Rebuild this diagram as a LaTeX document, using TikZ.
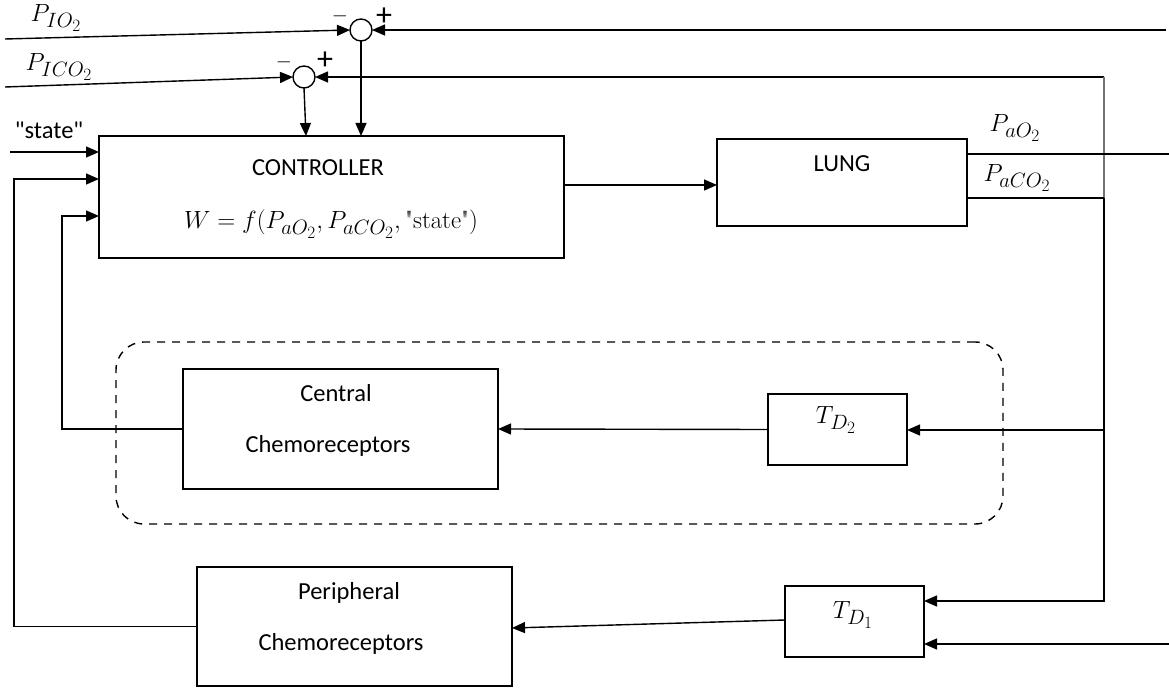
\documentclass[tikz,border=0pt]{standalone}
\usepackage{fontspec}
\newfontfamily\cbr{Carlito}
\usetikzlibrary{arrows.meta,calc}
\begin{document}
\begin{tikzpicture}[x=1pt,y=-1pt,
  box/.style={draw,line width=1.4pt,inner sep=0pt,outer sep=0pt},
  ln/.style={line width=1.4pt},
  arr/.style={line width=1.4pt,-{Triangle[length=13pt,width=11pt]}},
  lbl/.style={font=\cbr\fontsize{24.5}{28}\selectfont,inner sep=0pt,anchor=base},
  mth/.style={font=\fontsize{24.88}{28}\selectfont,inner sep=0pt},
  sgn/.style={font=\cbr\fontsize{32}{32}\selectfont,inner sep=0pt},
  msgn/.style={font=\fontsize{20.74}{22}\selectfont,inner sep=0pt},
  sumc/.style={circle,draw,line width=1.4pt,minimum size=22pt,inner sep=0pt,outer sep=0pt}]
\useasboundingbox (0,0) rectangle (1169,692);

% dashed group
\node[draw,line width=1.4pt,dash pattern=on 8pt off 7pt,rounded corners=28pt,
      minimum width=887pt,minimum height=182pt,inner sep=0pt] (grp) at (559.5,433) {};

% boxes
\node[box,minimum width=465pt,minimum height=122pt] (ctrl) at (331.5,197) {};
\node[box,minimum width=250pt,minimum height=87pt] (lung) at (842,182.5) {};
\node[box,minimum width=315pt,minimum height=120pt] (central) at (340.5,429) {};
\node[box,minimum width=139pt,minimum height=71pt] (td2) at (837.5,429.5) {};
\node[box,minimum width=315pt,minimum height=119pt] (periph) at (354.5,626.5) {};
\node[box,minimum width=139pt,minimum height=71pt] (td1) at (854.5,621.5) {};

% summing junctions
\node[sumc] (c1) at (361,30) {};
\node[sumc] (c2) at (304,77) {};
\node[msgn] (c1m) at (340,16) {$-$};
\node[sgn] (c1p) at (384,17) {+};
\node[msgn] (c2m) at (284,62) {$-$};
\node[sgn] (c2p) at (325,61) {+};

% texts
\node[lbl] (tctrl) at (318,176) {CONTROLLER};
\node[mth,anchor=base] (tform) at (331,229) {$W=f(P_{aO_2},P_{aCO_2},\mbox{\textquotedbl state\textquotedbl})$};
\node[lbl] (tlung) at (842,172) {LUNG};
\node[lbl] (tcen1) at (336,401) {Central};
\node[lbl] (tcen2) at (328,452) {Chemoreceptors};
\node[lbl] (tper1) at (349,599) {Peripheral};
\node[lbl] (tper2) at (341,650) {Chemoreceptors};
\node[mth] (ttd2) at (836,420) {$T_{D_2}$};
\node[mth] (ttd1) at (853,615) {$T_{D_1}$};
\node[mth] (tpio) at (56,18) {$P_{IO_2}$};
\node[mth] (tpico) at (59,67) {$P_{ICO_2}$};
\node[mth] (tpao) at (1015,128) {$P_{aO_2}$};
\node[mth] (tpaco) at (1017,178) {$P_{aCO_2}$};
\node[lbl] (tstate) at (49,139) {"state"};

% coordinates
\coordinate (in1) at (5,39);
\coordinate (in2) at (5,87);
\coordinate (r1) at (1166,30);
\coordinate (j1) at (1104,77);
\coordinate (j2) at (1104,198);
\coordinate (j3) at (1104,430);
\coordinate (j4) at (1104,601);
\coordinate (oa) at (1169,154);
\coordinate (ib) at (1169,644);
\coordinate (s0) at (10,152);
\coordinate (k1) at (62,0);
\coordinate (k2) at (14,0);

% connectors
\draw[arr] (in1) -- (c1.west);
\draw[arr] (in2) -- (c2.west);
\draw[arr] (r1) -- (c1.east);
\draw[arr] (j1) -- (c2.east);
\draw[line width=2pt,draw=black!55] (j1) -- (j2);
\draw[ln] (lung.east |- oa) -- (oa);
\draw[ln] (lung.east |- j2) -- (j2);
\draw[arr] (j2) -- (j4) -- (td1.east |- j4);
\draw[arr] (j3) -- (td2.east |- j3);
\draw[arr] (ib) -- (td1.east |- ib);
\draw[arr] (td2.west) -- (central.east);
\draw[arr] ([yshift=1.5pt]td1.west) -- ([yshift=-1.5pt]periph.east);
\draw[arr] (central.west) -- (central.west -| k1) |- ([yshift=-19pt]ctrl.west);
\draw[arr] (periph.west) -- (periph.west -| k2) |- ([yshift=18pt]ctrl.west);
\draw[arr] (s0) -- (ctrl.west |- s0);
\draw[arr] (c2.south) -- ([xshift=2pt]c2.south |- ctrl.north);
\draw[arr] (c1.south) -- (c1.south |- ctrl.north);
\draw[arr] ([yshift=12pt]ctrl.east) -- ([yshift=12pt]ctrl.east -| lung.west);
\end{tikzpicture}
\end{document}
